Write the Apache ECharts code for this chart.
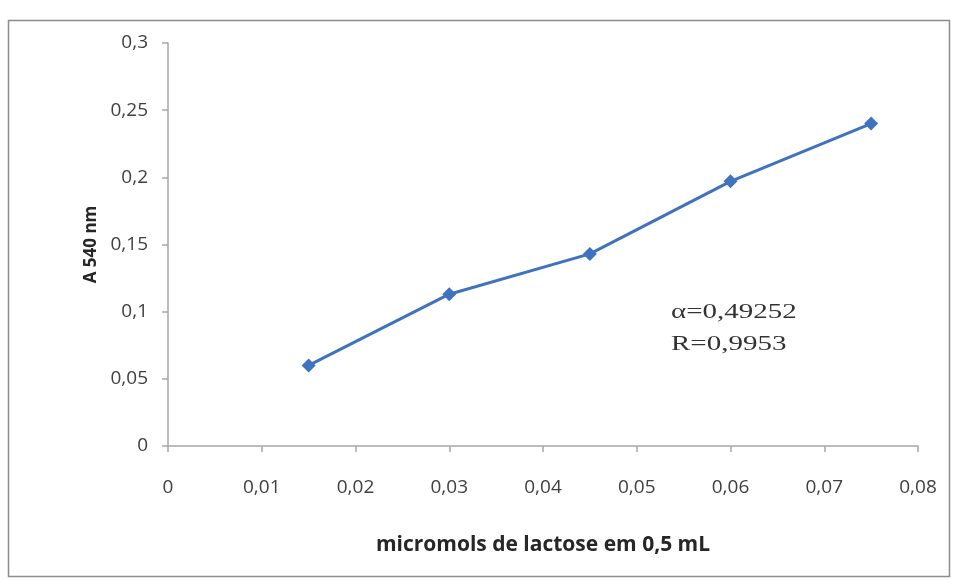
<!DOCTYPE html>
<html>
<head>
<meta charset="utf-8">
<script src="https://cdn.jsdelivr.net/npm/echarts@6/dist/echarts.min.js"></script>
<style>
  html, body { margin: 0; padding: 0; background: #ffffff; }
  #chart { width: 957px; height: 580px; }
</style>
</head>
<body>
<div id="chart"></div>
<script>
// Lactose standard curve: absorbance at 540 nm vs. micromoles of lactose
const lactoseMicromol = [0.015, 0.03, 0.045, 0.06, 0.075];
const absorbance540 = [0.060, 0.113, 0.143, 0.197, 0.240];
const fitLines = ['α=0,49252', 'R=0,9953'];

const commaFmt = v => String(+v.toFixed(4)).replace('.', ',');

const chart = echarts.init(document.getElementById('chart'), null, { renderer: 'canvas' });

const axisColor = '#a6a6a6';
const labelColor = '#404040';
const sansFont = '"Open Sans", Lato, sans-serif';

chart.setOption({
  animation: false,
  backgroundColor: '#ffffff',
  grid: { left: 168, right: 39, top: 43, bottom: 134 },
  xAxis: {
    type: 'value',
    min: 0, max: 0.08, interval: 0.01,
    name: 'micromols de lactose em 0,5 mL',
    nameLocation: 'middle',
    nameGap: 89,
    nameTextStyle: { fontFamily: sansFont, fontSize: 21, fontWeight: 'bold', color: '#262626' },
    axisLine: { lineStyle: { color: axisColor, width: 1.5 } },
    axisTick: { show: true, length: 6, lineStyle: { color: axisColor, width: 1.5 } },
    axisLabel: { margin: 32, fontFamily: sansFont, fontSize: 19, color: labelColor, formatter: commaFmt },
    splitLine: { show: false }
  },
  yAxis: {
    type: 'value',
    min: 0, max: 0.3, interval: 0.05,
    name: 'A 540 nm',
    nameLocation: 'middle',
    nameGap: 51,
    nameRotate: 90,
    nameTextStyle: { fontFamily: sansFont, fontSize: 17, fontWeight: 'bold', color: '#262626' },
    axisLine: { show: true, lineStyle: { color: axisColor, width: 1.5 } },
    axisTick: { show: true, length: 6, lineStyle: { color: axisColor, width: 1.5 } },
    axisLabel: { margin: 20, fontFamily: sansFont, fontSize: 19, color: labelColor, formatter: commaFmt },
    splitLine: { show: false }
  },
  series: [{
    type: 'line',
    data: lactoseMicromol.map((x, i) => [x, absorbance540[i]]),
    symbol: 'diamond',
    symbolSize: 14,
    lineStyle: { color: '#3f73bf', width: 3 },
    itemStyle: { color: '#3f73bf' }
  }],
  graphic: [
    {
      type: 'rect',
      shape: { x: 8.5, y: 20.5, width: 941, height: 556 },
      style: { fill: 'none', stroke: '#8c8c8c', lineWidth: 1.5 },
      silent: true
    },
    {
      type: 'text',
      x: 671, y: 297,
      scaleX: 1.45,
      style: {
        text: fitLines.join('\n'),
        font: '20px "Liberation Serif", "DejaVu Serif", serif',
        fill: '#333333',
        lineHeight: 32
      }
    }
  ]
});
</script>
</body>
</html>
